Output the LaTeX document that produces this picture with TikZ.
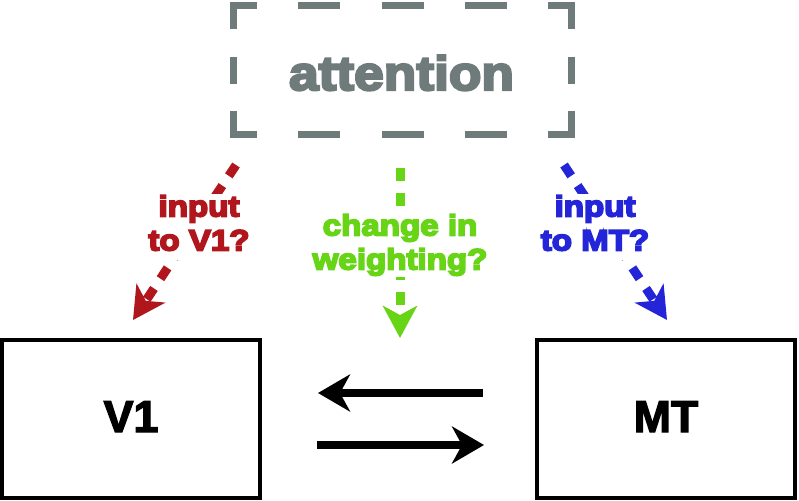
\documentclass[tikz,border=0pt]{standalone}
\usepackage{fontspec}
\setmainfont{Liberation Sans}
\newfontfamily\lblfont[FakeStretch=1.13,FakeBold=6]{Liberation Sans Bold}
\newfontfamily\attfont[FakeStretch=1.11,FakeBold=5]{Liberation Sans Bold}
\newfontfamily\areafont[FakeBold=3]{Liberation Sans Bold}
\usetikzlibrary{arrows.meta}
\definecolor{attgray}{RGB}{110,123,122}
\definecolor{qred}{RGB}{176,22,28}
\definecolor{qgreen}{RGB}{104,212,22}
\definecolor{qblue}{RGB}{36,36,216}
\begin{document}
\begin{tikzpicture}[x=1pt,y=-1pt,
  area/.style={draw=black, line width=4pt, minimum width=258pt, minimum height=158pt,
    inner sep=0pt, outer sep=0pt, font=\areafont\fontsize{44.7}{50}\selectfont,
    text height=32pt, text depth=6pt},
  lbl/.style={font=\lblfont\fontsize{29.3}{34}\selectfont, align=center, fill=white,
    inner xsep=2pt, inner ysep=1pt, anchor=north},
  qarrow/.style={line width=9pt, line cap=butt, dash pattern=on 13pt off 11.7pt,
    -{Stealth[length=32pt,width=34pt,inset=9pt]}},
  flow/.style={line width=8pt, -{Stealth[length=32pt,width=37pt,inset=10pt]}},
  attdash/.style={draw=attgray, line width=7pt, line join=miter}
]
\useasboundingbox (0,0) rectangle (799,500);

% attention box (dashed border)
\node[font=\attfont\fontsize{48}{56}\selectfont, text=attgray, anchor=base] (att) at (401.5,90) {attention};
\draw[attdash] (233.5,29) -- (233.5,5.5) -- (257,5.5);
\draw[attdash] (548,5.5) -- (571.5,5.5) -- (571.5,29);
\draw[attdash] (233.5,111) -- (233.5,134.5) -- (257,134.5);
\draw[attdash] (548,134.5) -- (571.5,134.5) -- (571.5,111);
\draw[attdash] (298,5.5) -- (340,5.5);
\draw[attdash] (382,5.5) -- (424,5.5);
\draw[attdash] (465,5.5) -- (507,5.5);
\draw[attdash] (298,134.5) -- (340,134.5);
\draw[attdash] (382,134.5) -- (424,134.5);
\draw[attdash] (465,134.5) -- (507,134.5);
\draw[attdash] (233.5,57) -- (233.5,84);
\draw[attdash] (571.5,57) -- (571.5,84);

% areas
\node[area] (V1) at (131,419) {V1};
\node[area] (MT) at (666,419) {MT};

% question connectors
\coordinate (rs) at (236,165);
\coordinate (re) at (133,320);
\coordinate (gs) at (400,168);
\coordinate (ge) at (400,338);
\coordinate (bs) at (564,165);
\coordinate (be) at (667,320);
\draw[qarrow, draw=qred] (rs) -- (re);
\draw[qarrow, draw=qgreen] (gs) -- (ge);
\draw[qarrow, draw=qblue] (bs) -- (be);

\node[lbl, text=qred] (lred) at (199,194) {input\\to V1?\rule[-9pt]{0pt}{9pt}};
\node[lbl, text=qgreen] (lgreen) at (400,213) {change in\\weighting?};
\node[lbl, text=qblue] (lblue) at (595,194) {input\\to MT?\rule[-9pt]{0pt}{9pt}};

% reciprocal connections
\draw[flow, shorten <=54pt, shorten >=58pt] ([yshift=26pt]MT.west) -- ([yshift=26pt]V1.east);
\draw[flow, shorten <=57pt, shorten >=53pt] ([yshift=-26pt]V1.east) -- ([yshift=-26pt]MT.west);
\end{tikzpicture}
\end{document}
